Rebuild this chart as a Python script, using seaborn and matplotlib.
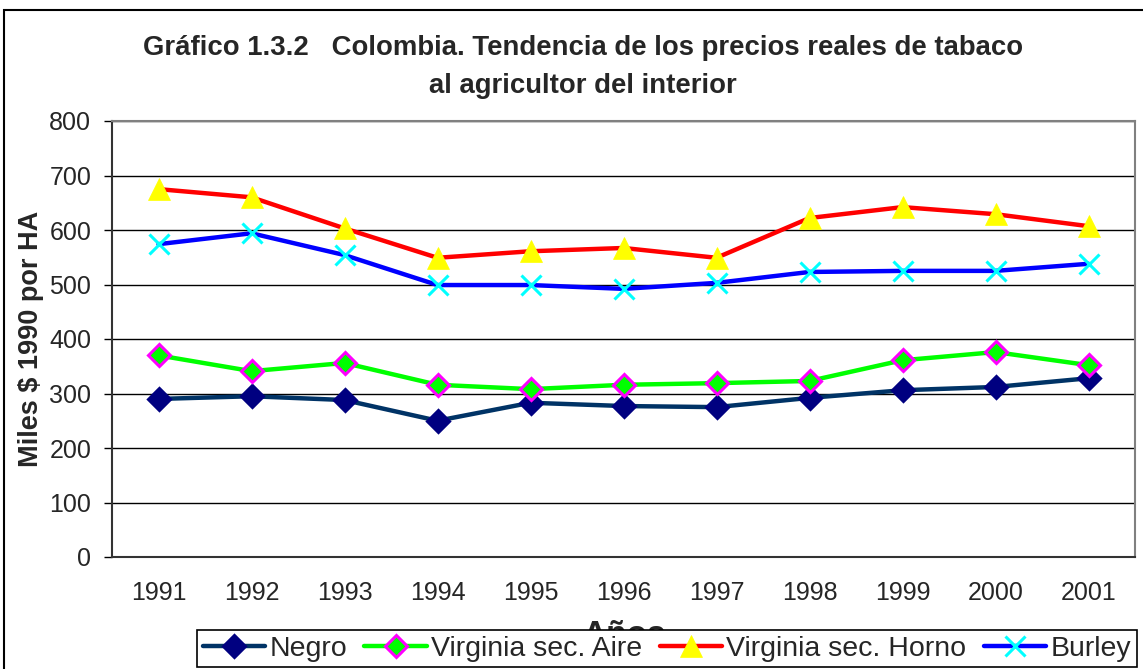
import pandas as pd
import matplotlib.pyplot as plt
import seaborn as sns
from matplotlib.patches import Rectangle

# Datos
anios = ["1991", "1992", "1993", "1994", "1995", "1996", "1997", "1998", "1999", "2000", "2001"]
negro = [290, 295, 288, 250, 283, 277, 275, 292, 306, 312, 328]
virginia_aire = [370, 341, 356, 316, 308, 316, 319, 323, 361, 376, 352]
virginia_horno = [675, 660, 603, 549, 561, 567, 549, 622, 642, 629, 607]
burley = [574, 594, 554, 499, 499, 492, 503, 523, 525, 525, 538]

series = {
    "Negro": negro,
    "Virginia sec. Aire": virginia_aire,
    "Virginia sec. Horno": virginia_horno,
    "Burley": burley,
}

# Estilo de cada serie: color de línea, marcador, relleno, borde, tamaño
estilos = {
    "Negro": ("#003366", "D", "#000080", "#000080", 11),
    "Virginia sec. Aire": ("#00FF00", "D", "#00FF00", "#FF00FF", 11),
    "Virginia sec. Horno": ("#FF0000", "^", "#FFFF00", "#FFFF00", 16),
    "Burley": ("#0000FF", "x", "#00FFFF", "#00FFFF", 14),
}

sns.set_style("white")
plt.rcParams["font.family"] = ["Liberation Sans", "DejaVu Sans"]

fig = plt.figure(figsize=(11.43, 6.69), dpi=100)
ax = fig.add_axes([112 / 1143, 1 - 557 / 669, (1135 - 112) / 1143, 436 / 669])

for nombre, valores in series.items():
    df = pd.DataFrame({"pos": range(len(anios)), "valor": valores})
    color, marker, fc, ec, ms = estilos[nombre]
    sns.lineplot(data=df, x="pos", y="valor", ax=ax, color=color, linewidth=3.2,
                 marker=marker, markersize=ms, markerfacecolor=fc, markeredgecolor=ec,
                 markeredgewidth=2.2 if marker != "^" else 0.5, label=nombre, zorder=3)

ax.set_xlim(-0.5, len(anios) - 0.5)
ax.set_ylim(0, 800)
ax.set_yticks(range(0, 801, 100))
ax.set_xticks(range(len(anios)))
ax.set_xticklabels(anios)
ax.set_xticks([i + 0.5 for i in range(-1, len(anios))], minor=True)
ax.tick_params(axis="x", which="major", length=0, labelsize=18, pad=17)
ax.tick_params(axis="x", which="minor", length=6, width=1, color="black", direction="out")
ax.tick_params(axis="y", length=6, width=1, color="black", direction="out", labelsize=18, pad=9, left=True)
ax.yaxis.grid(True, color="black", linewidth=1)
ax.set_axisbelow(True)
for lado in ["top", "right"]:
    ax.spines[lado].set_color("gray")
    ax.spines[lado].set_linewidth(1.5)
for lado in ["left", "bottom"]:
    ax.spines[lado].set_color("#333333")
    ax.spines[lado].set_linewidth(1.5)

ax.set_ylabel("Miles $ 1990 por HA", fontsize=19.5, fontweight="bold", labelpad=4)
ax.set_xlabel("Años", fontsize=24, fontweight="bold")
ax.xaxis.set_label_coords(0.5, -0.145)

fig.text(583 / 1143, 1 - 67 / 669, "Gráfico 1.3.2   Colombia. Tendencia de los precios reales de tabaco\nal agricultor del interior",
         ha="center", va="center", fontsize=19.8, fontweight="bold", linespacing=1.6)

leg = ax.legend(loc="upper left", bbox_to_anchor=(197 / 1143, 1 - 630 / 669), bbox_transform=fig.transFigure,
                ncol=4, fontsize=20.5, frameon=True, fancybox=False, edgecolor="black", framealpha=1,
                handlelength=2.2, handletextpad=0.15, columnspacing=0.6, borderpad=0.2, borderaxespad=0)
leg.get_frame().set_linewidth(1.2)
leg.set_zorder(10)

# Marco exterior del gráfico
fig.patches.append(Rectangle((4 / 1143, -0.1), 1.2, 1.1 - 10 / 669, transform=fig.transFigure,
                             fill=False, edgecolor="black", linewidth=1.5))

fig.savefig("out.png", dpi=100)
